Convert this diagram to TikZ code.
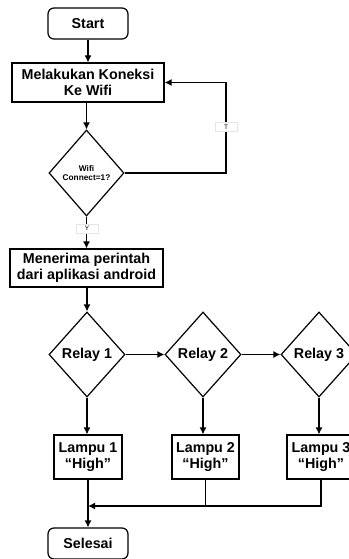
\documentclass[tikz,border=0pt]{standalone}
\usepackage{fontspec}
\setmainfont{Liberation Sans}
\usetikzlibrary{shapes.geometric}
\usetikzlibrary{arrows.meta}
\usetikzlibrary{positioning}

\tikzset{
	boxfont/.style={font=\bfseries\fontsize{14.3}{15.5}\selectfont},
	terminal/.style={draw,line width=1.2pt,rounded corners=6pt,boxfont,minimum width=80pt,minimum height=31pt,inner sep=0pt},
	process/.style={draw,line width=1.2pt,boxfont,align=center,inner sep=0pt},
	decision/.style={draw,diamond,line width=1.2pt,boxfont,align=center,inner sep=0pt,minimum width=76pt,minimum height=85pt},
	flow/.style={line width=1.2pt,-{Latex[length=7pt,width=7pt]}},
	tag/.style={fill=white,draw=gray!20,line width=0.4pt,font=\fontsize{6.5}{6.5}\selectfont,inner sep=0.5pt,minimum width=22pt,minimum height=9pt}
}

\begin{document}
\begin{tikzpicture}[x=1pt,y=-1pt]
		\useasboundingbox (0,0) rectangle (348,559);
		\node[terminal] (start) at (88,23.5) {Start};
		\node[process,minimum width=152pt,minimum height=39pt] (koneksi) at (88,82.5) {Melakukan Koneksi\\Ke Wifi};
		\node[decision,minimum width=75pt,minimum height=86pt,font=\bfseries\fontsize{8.3}{8.5}\selectfont] (wifi) at (86.5,173) {Wifi\\Connect=1?};
		\node[process,minimum width=153pt,minimum height=38pt] (perintah) at (86.5,268) {Menerima perintah\\dari aplikasi android};
		\node[decision] (relay1) at (87,354.5) {Relay 1};
		\node[decision] (relay2) at (203,354.5) {Relay 2};
		\node[decision] (relay3) at (319,354.5) {Relay 3};
		\node[process,minimum width=68pt,minimum height=44pt] (lampu1) at (88,457) {Lampu 1\\“High”};
		\node[process,minimum width=67pt,minimum height=44pt] (lampu2) at (205.5,457) {Lampu 2\\“High”};
		\node[process,minimum width=68pt,minimum height=44pt] (lampu3) at (321,457) {Lampu 3\\“High”};
		\node[terminal] (selesai) at (88,543.5) {Selesai};
		\coordinate (back) at (226,82.5);
		\coordinate (join) at (88,506);
		\draw[flow] (start) -- (koneksi);
		\draw[flow] (koneksi.south -| wifi.north) -- (wifi);
		\draw[flow] (wifi.east) -| (back) -- (koneksi.east);
		\node[tag] (tagT) at (226,127) {T};
		\draw[flow] (wifi.south) -- (perintah.north -| wifi.south);
		\node[tag] (tagY) at (87,228.5) {Y};
		\draw[flow] (perintah.south -| relay1.north) -- (relay1);
		\draw[flow] (relay1) -- (relay2);
		\draw[flow] (relay2) -- (relay3);
		\draw[flow] (relay1.south) -- (lampu1.north -| relay1.south);
		\draw[flow] (relay2.south) -- (lampu2.north -| relay2.south);
		\draw[flow] (relay3.south) -- (lampu3.north -| relay3.south);
		\draw[flow] (lampu1) -- (selesai);
		\draw[flow] (lampu3.south) |- (join);
		\draw[line width=1.2pt] (lampu2.south) -- (lampu2.south |- join);
	\end{tikzpicture}
\end{document}
